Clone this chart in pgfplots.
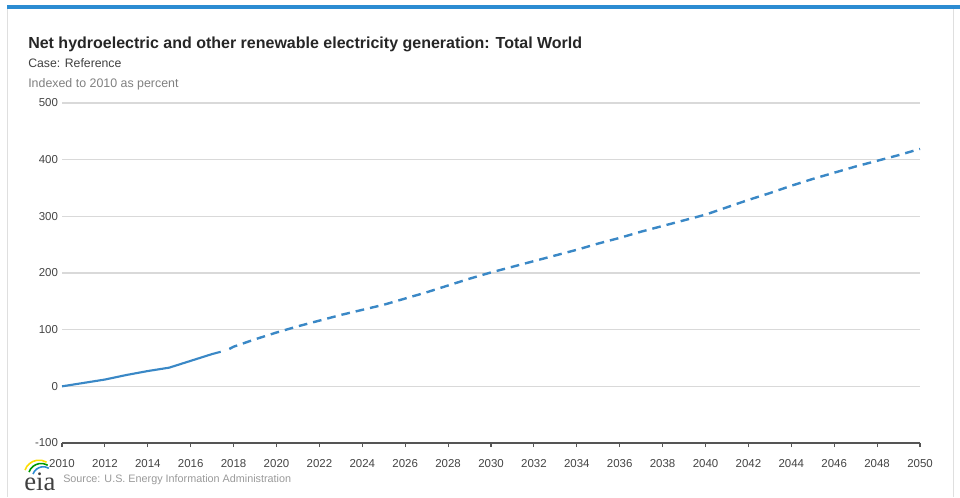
\documentclass[border=0pt]{standalone}
\usepackage{pgfplots}
\pgfplotsset{compat=1.18}
\usepackage{fontspec}
\setmainfont{Liberation Sans}
\newfontfamily\seriffont{Liberation Serif}
\definecolor{eiablue}{HTML}{2C8CD2}
\definecolor{linecol}{HTML}{3A88C6}
\definecolor{gridcol}{HTML}{D9D9D9}
\definecolor{axiscol}{HTML}{555555}
\definecolor{ticklab}{HTML}{444444}
\begin{document}
\begin{tikzpicture}
\begin{scope}[x=0.75pt,y=0.75pt]
\path[use as bounding box] (0,0) rectangle (960,-497);
\fill[eiablue] (7,-5) rectangle (960,-9);
\draw[gray!25,line width=0.6pt] (7,-9) -- (7,-497);
\draw[gray!25,line width=0.6pt] (953,-9) -- (953,-497);
\node[anchor=base west,inner sep=0,text=black!85,font=\fontsize{12}{14}\selectfont\bfseries] at (28,-48) {Net hydroelectric and other renewable electricity generation: Total World};
\node[anchor=base west,inner sep=0,text=black!75,font=\fontsize{9.2}{10}\selectfont] at (28,-67) {Case: Reference};
\node[anchor=base west,inner sep=0,text=black!50,font=\fontsize{9.3}{10}\selectfont] at (28,-87) {Indexed to 2010 as percent};
\node[anchor=base west,inner sep=0,text=black!40,font=\fontsize{8.1}{10}\selectfont] at (63,-482) {Source: U.S. Energy Information Administration};
\node[anchor=base west,inner sep=0,text=black!75,font=\fontsize{20}{20}\selectfont\seriffont] at (24,-490) {eia};
\draw[yellow!80!orange,line width=1.2pt] (25,-470) arc[start angle=160,end angle=60,radius=15];
\draw[green!60!black,line width=1.2pt] (29,-472) arc[start angle=160,end angle=60,radius=13];
\draw[eiablue,line width=1.2pt] (33,-474) arc[start angle=160,end angle=60,radius=11];
\end{scope}
\begin{axis}[
  at={(46.5pt,-332.25pt)}, anchor=south west,
  scale only axis, width=643.5pt, height=255pt,
  xmin=2010, xmax=2050, ymin=-100, ymax=500,
  xtick={2010,2012,...,2050},
  ytick={-100,0,100,200,300,400,500},
  axis x line*=bottom, axis y line*=left,
  y axis line style={draw=none},
  x axis line style={draw=axiscol,line width=1pt,-},
  ymajorgrids, grid style={gridcol,line width=1pt},
  tick align=outside,
  xtick style={draw=axiscol,line width=0.8pt},
  major tick length=3pt,
  ytick style={draw=none},
  /pgf/number format/assume math mode=true,
  /pgf/number format/.cd,1000 sep={},
  /pgfplots/.cd,
  tick label style={font=\fontsize{8.6}{9}\selectfont,text=ticklab},
  xticklabel style={yshift=-6pt},
  yticklabel style={xshift=3.5pt},
  clip=false,
]
\addplot[linecol,line width=1.6pt] coordinates {
(2010,0) (2011,6) (2012,12) (2013,20) (2014,27) (2015,33) (2016,45) (2017,57) (2017.4,61)
};
\addplot[linecol,line width=1.8pt,dash pattern=on 6.5pt off 4.5pt] coordinates {
(2017.8,66) (2018,70) (2019,83) (2020,95) (2021,106) (2022,116) (2023,126) (2024,135)
(2025,144) (2026,155) (2027,166) (2028,178) (2029,190) (2030,201) (2031,211)
(2032,221) (2033,231) (2034,241) (2035,252) (2036,262) (2037,273) (2038,283)
(2039,293) (2040,303) (2041,316) (2042,329) (2043,341) (2044,354) (2045,366)
(2046,377) (2047,388) (2048,398) (2049,408) (2050,419)
};
\end{axis}
\end{tikzpicture}
\end{document}
